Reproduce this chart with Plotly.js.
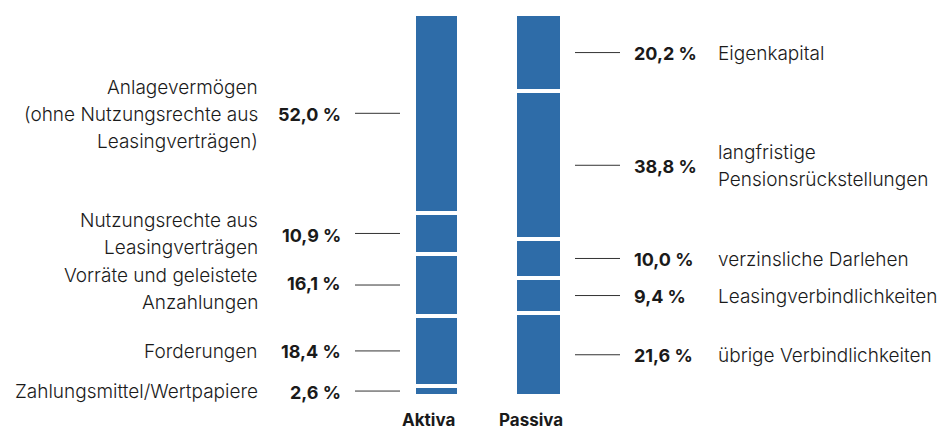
<!DOCTYPE html>
<html>
<head>
<meta charset="utf-8">
<script src="https://cdn.plot.ly/plotly-3.0.1.min.js"></script>
<style>html,body{margin:0;padding:0;background:#fff;}#chart{width:937px;height:432px;}</style>
</head>
<body>
<div id="chart"></div>
<script>
// ---- data (bottom to top) ----
const categories = ["Aktiva", "Passiva"];
const aktivaLabels = ["Zahlungsmittel/Wertpapiere", "Forderungen", "Vorräte und geleistete<br>Anzahlungen", "Nutzungsrechte aus<br>Leasingverträgen", "Anlagevermögen<br>(ohne Nutzungsrechte aus<br>Leasingverträgen)"];
const aktivaValues = [2.6, 18.4, 16.1, 10.9, 52.0];
const passivaLabels = ["übrige Verbindlichkeiten", "Leasingverbindlichkeiten", "verzinsliche Darlehen", "langfristige<br>Pensionsrückstellungen", "Eigenkapital"];
const passivaValues = [21.6, 9.4, 10.0, 38.8, 20.2];

// ---- styling / layout constants ----
const W = 937, H = 432;
const BLUE = "#2e6ca8";
const TXT = "#1a1a1a";
const FONT = "Inter, 'Liberation Sans', Arial, sans-serif";
const FS_LABEL = 19, FS_PCT = 18, FS_CAT = 17;
const LINE_H = 27;
// left side (px)
const L_LABEL_RIGHT = 260, L_PCT_RIGHT = 343, L_LINE = [355, 400];
// right side (px)
const R_PCT_LEFT = 632, R_LABEL_LEFT = 716, R_LINE = [575, 620];
// small vertical nudges of label blocks (px, positive = down)
const aktivaLabelNudge = [0, 1, 4, 1, 1];
const aktivaPctNudge = [1, 1, -2, 2, 1];
const passivaLabelNudge = [1, 1, 1, 1, 1];
const passivaPctNudge = [1, 1, 1, 1, 1];

const fmt = v => v.toFixed(1).replace(".", ",") + " %";

const traces = [];
function addStack(xpos, values, width) {
  values.forEach(v => {
    traces.push({
      type: "bar", x: [xpos], y: [v], width: width,
      marker: {color: BLUE, line: {color: "#ffffff", width: 4}},
      hoverinfo: "skip", showlegend: false
    });
  });
}
addStack(0, aktivaValues, 0.441);
addStack(1, passivaValues, 0.461);

function centers(values) {
  const out = []; let c = 0;
  values.forEach(v => { out.push(c + v / 2); c += v; });
  return out;
}
const aC = centers(aktivaValues), pC = centers(passivaValues);

const annotations = [], shapes = [];
const px = x => x / W;

function addLines(text, xpx, yData, anchor, nudge, bold) {
  const lines = text.split("<br>");
  const n = lines.length;
  lines.forEach((ln, i) => {
    const off = (i - (n - 1) / 2) * LINE_H + nudge;
    annotations.push({
      xref: "paper", yref: "y", x: px(xpx), y: yData, yshift: -off,
      xanchor: anchor, yanchor: "middle", showarrow: false,
      text: bold ? "<b>" + ln + "</b>" : ln,
      font: {family: FONT, size: bold ? FS_PCT : FS_LABEL, color: TXT, weight: bold ? 700 : 300}
    });
  });
}

aktivaValues.forEach((v, i) => {
  addLines(aktivaLabels[i], L_LABEL_RIGHT, aC[i], "right", aktivaLabelNudge[i], false);
  addLines(fmt(v), L_PCT_RIGHT, aC[i], "right", aktivaPctNudge[i], true);
  shapes.push({type: "line", xref: "paper", yref: "y", x0: px(L_LINE[0]), x1: px(L_LINE[1]), y0: aC[i], y1: aC[i], line: {color: "#333", width: 1}});
});
passivaValues.forEach((v, i) => {
  addLines(passivaLabels[i], R_LABEL_LEFT, pC[i], "left", passivaLabelNudge[i], false);
  addLines(fmt(v), R_PCT_LEFT, pC[i], "left", passivaPctNudge[i], true);
  shapes.push({type: "line", xref: "paper", yref: "y", x0: px(R_LINE[0]), x1: px(R_LINE[1]), y0: pC[i], y1: pC[i], line: {color: "#333", width: 1}});
});

// category labels under the bars
categories.forEach((c, i) => {
  annotations.push({
    xref: "x", yref: "paper", x: i, y: 1 - 420 / H, xshift: -8,
    xanchor: "center", yanchor: "middle", showarrow: false,
    text: "<b>" + c + "</b>", font: {family: FONT, size: FS_CAT, color: TXT, weight: 700}
  });
});

const layout = {
  width: W, height: H,
  margin: {l: 0, r: 0, t: 0, b: 0},
  paper_bgcolor: "#fff", plot_bgcolor: "#fff",
  barmode: "stack", bargap: 0,
  xaxis: {range: [-436.5 / 102, 1 + (W - 538.5) / 102], visible: false, fixedrange: true},
  yaxis: {range: [-9.42, 103.66], visible: false, fixedrange: true},
  annotations: annotations, shapes: shapes
};

Plotly.newPlot("chart", traces, layout, {staticPlot: true, displayModeBar: false});
</script>
</body>
</html>
